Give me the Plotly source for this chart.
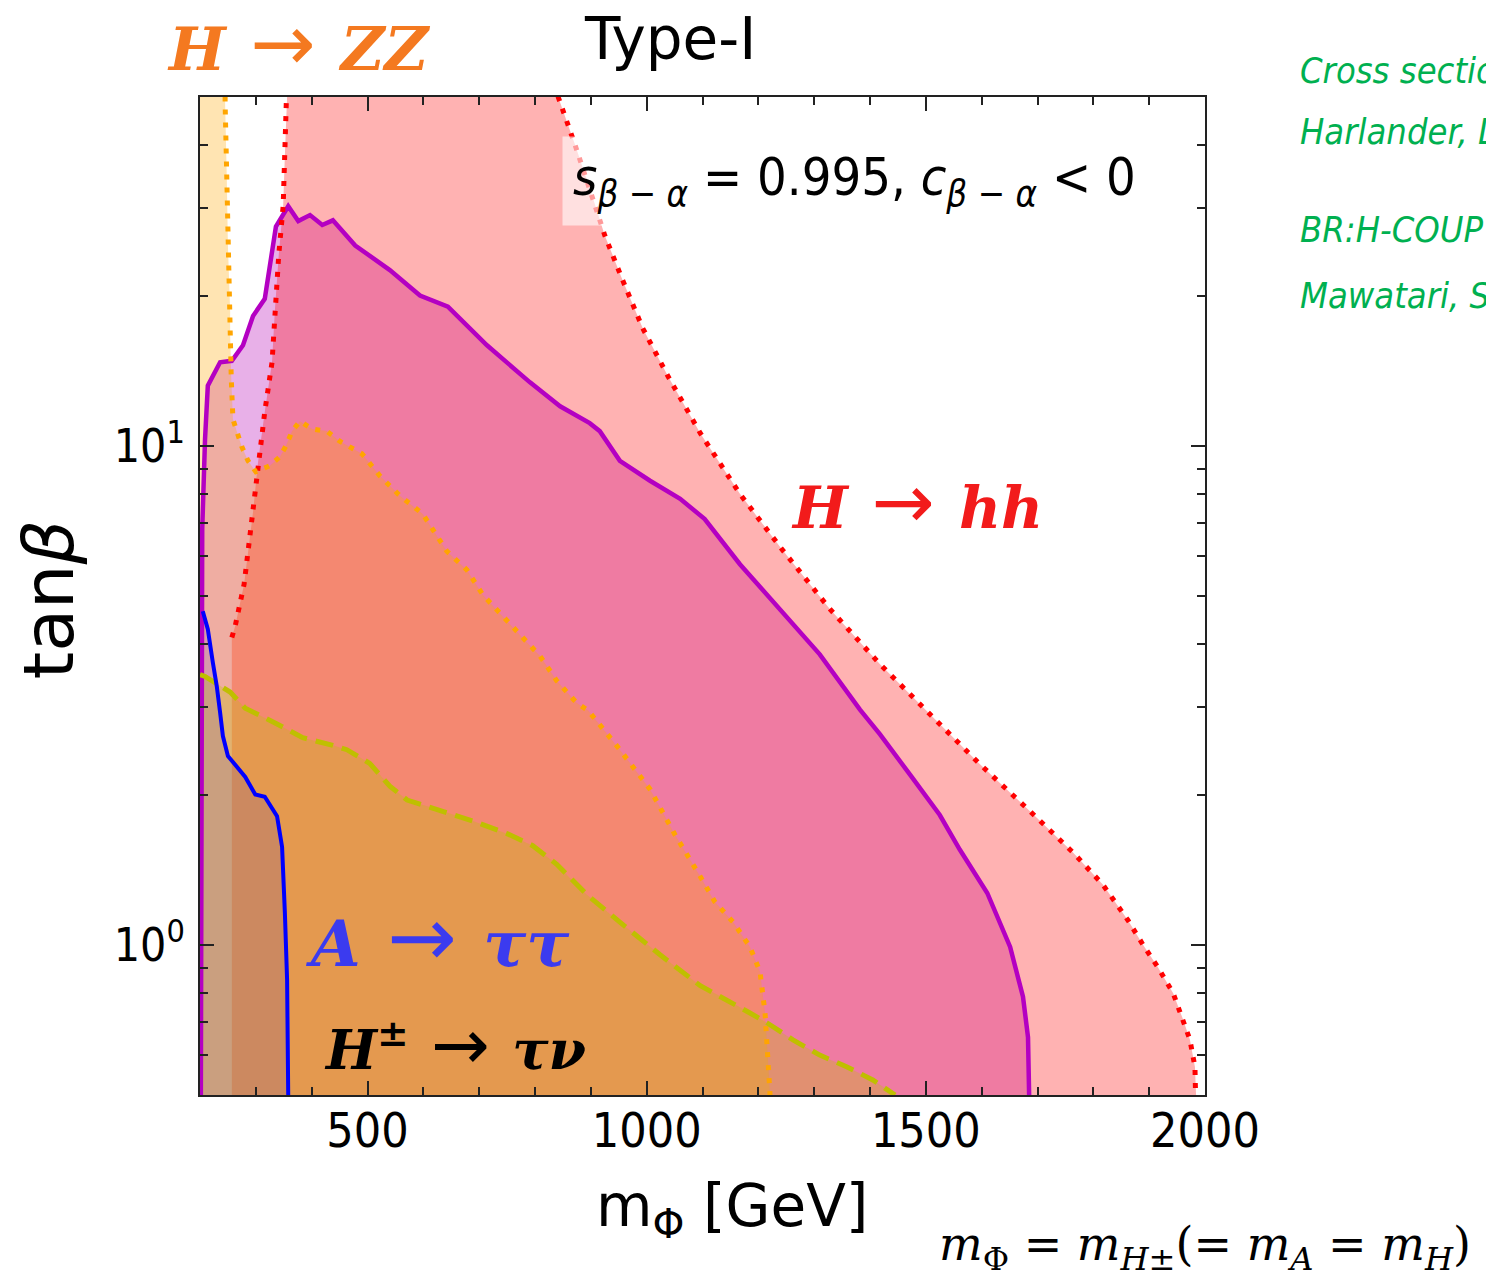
import plotly.graph_objects as go

# ---------------- data ----------------
# purple solid boundary (excluded below the curve)
purple_x = [201.5, 203, 204, 209, 214, 236, 257, 277, 295, 316, 325, 336, 358, 376, 397, 419, 438, 478, 540, 594,
            644, 714, 791, 845, 898, 916, 952, 1006, 1060, 1104, 1167, 1239, 1310, 1382, 1418, 1472, 1525, 1561,
            1610, 1651, 1674, 1683, 1685]
purple_y = [0.5, 4.0, 6.81, 10.3, 13.2, 14.7, 14.8, 15.9, 18.2, 19.7, 23.0, 27.5, 30.2, 28.2, 29.0, 27.7, 28.3, 25.2,
            22.5, 20.0, 19.0, 15.9, 13.4, 12.0, 11.1, 10.7, 9.33, 8.51, 7.83, 7.13, 5.79, 4.71, 3.82, 2.96, 2.64,
            2.19, 1.82, 1.55, 1.27, 0.99, 0.787, 0.653, 0.5]

# H -> hh (red dotted), left and right boundaries
hh_left_x = [257, 257, 263, 279, 295, 304, 316, 329, 334, 341, 349, 352, 356, 357]
hh_left_y = [0.4, 4.13, 4.35, 5.28, 7.37, 9.29, 11.7, 14.7, 18.6, 24.1, 30.3, 38.2, 50.1, 60]
hh_right_x = [838, 841, 872, 902, 925, 956, 993, 1038, 1096, 1167, 1239, 1328, 1418, 1507, 1597, 1687, 1764, 1817,
              1862, 1889, 1916, 1943, 1961, 1973, 1982, 1984, 1985]
hh_right_y = [60, 50.2, 40.0, 31.8, 26.4, 21.6, 17.2, 13.8, 10.6, 8.01, 6.27, 4.71, 3.65, 2.90, 2.30, 1.85, 1.53,
              1.32, 1.12, 1.00, 0.90, 0.80, 0.707, 0.645, 0.569, 0.5, 0.4]

# H -> ZZ (orange dotted)
zz_x = [245, 245, 248, 250, 254, 254, 256, 259, 268, 275, 286, 300, 325, 343, 354, 365, 379, 401, 427, 451, 490,
        522, 558, 599, 642, 678, 707, 743, 778, 809, 839, 875, 895, 952, 1006, 1051, 1096, 1122, 1155, 1185, 1203,
        1212, 1217, 1221, 1221]
zz_y = [60, 48.5, 34.4, 25.2, 18.6, 16.8, 13.6, 11.3, 10.5, 9.95, 9.33, 8.87, 9.12, 9.50, 10.0, 10.7, 11.2, 10.8,
        10.7, 10.2, 9.64, 8.71, 7.94, 7.30, 6.15, 5.64, 5.02, 4.54, 4.12, 3.79, 3.38, 3.05, 2.95, 2.46, 2.05, 1.66,
        1.37, 1.22, 1.11, 0.99, 0.883, 0.730, 0.593, 0.5, 0.4]

# yellow-green dashed
g_x = [200, 209, 254, 281, 338, 384, 438, 463, 504, 540, 571, 630, 689, 750, 796, 839, 868, 893, 952, 1024, 1096,
       1144, 1185, 1216, 1262, 1310, 1359, 1405, 1441, 1445]
g_y = [3.48, 3.45, 3.21, 2.98, 2.77, 2.60, 2.51, 2.46, 2.31, 2.08, 1.95, 1.86, 1.77, 1.67, 1.58, 1.45, 1.34, 1.26,
       1.11, 0.955, 0.828, 0.776, 0.730, 0.697, 0.645, 0.601, 0.569, 0.536, 0.504, 0.5]

# blue solid
b_x = [205, 214, 223, 230, 236, 241, 250, 266, 281, 299, 316, 338, 347, 352, 356, 358]
b_y = [4.66, 4.29, 3.68, 3.30, 2.92, 2.62, 2.39, 2.28, 2.17, 2.00, 1.98, 1.81, 1.57, 1.16, 0.851, 0.5]

x_major = [500, 1000, 1500, 2000]
x_minor = [300, 400, 600, 700, 800, 900, 1100, 1200, 1300, 1400, 1600, 1700, 1800, 1900]
y_major = [1, 10]
y_major_text = ["10<sup>0</sup>", "10<sup>1</sup>"]
y_minor = [0.6, 0.7, 0.8, 0.9, 2, 3, 4, 5, 6, 7, 8, 9, 20, 30, 40]

YLO, YHI, XLO = 0.4, 60, 190

SANS = "DejaVu Sans, sans-serif"
SANSC = "DejaVu Sans Condensed, DejaVu Sans, sans-serif"
SERIF = "DejaVu Serif, serif"
ARROW = '<span style="font-family:DejaVu Sans;font-weight:normal;font-size:1.3em">\u00a0→\u00a0</span>'

fig = go.Figure()

# ---------------- fills ----------------
fig.add_trace(go.Scatter(x=purple_x, y=purple_y, fill="toself", fillcolor="rgba(182,0,182,0.31)",
                         mode="none", hoverinfo="skip", showlegend=False))
fig.add_trace(go.Scatter(x=hh_left_x + hh_right_x, y=hh_left_y + hh_right_y, fill="toself",
                         fillcolor="rgba(255,0,0,0.3)", mode="none", hoverinfo="skip", showlegend=False))
fig.add_trace(go.Scatter(x=[XLO] + zz_x + [XLO], y=[YHI] + zz_y + [YLO], fill="toself",
                         fillcolor="rgba(255,165,0,0.3)", mode="none", hoverinfo="skip", showlegend=False))
fig.add_trace(go.Scatter(x=[XLO, XLO] + g_x + [g_x[-1]], y=[YLO, g_y[0]] + g_y + [YLO], fill="toself",
                         fillcolor="rgba(191,191,0,0.3)", mode="none", hoverinfo="skip", showlegend=False))
fig.add_trace(go.Scatter(x=[XLO, XLO] + b_x + [b_x[-1]], y=[YLO, b_y[0]] + b_y + [YLO], fill="toself",
                         fillcolor="rgba(0,0,255,0.1)", mode="none", hoverinfo="skip", showlegend=False))

# ---------------- lines ----------------
fig.add_trace(go.Scatter(x=purple_x, y=purple_y, mode="lines", line=dict(color="#b400c2", width=4.5),
                         hoverinfo="skip", showlegend=False))
fig.add_trace(go.Scatter(x=hh_left_x[1:], y=hh_left_y[1:], mode="lines",
                         line=dict(color="#ff0000", width=5, dash="5px,8px"), hoverinfo="skip", showlegend=False))
fig.add_trace(go.Scatter(x=hh_right_x, y=hh_right_y, mode="lines",
                         line=dict(color="#ff0000", width=5, dash="5px,8px"), hoverinfo="skip", showlegend=False))
fig.add_trace(go.Scatter(x=zz_x, y=zz_y, mode="lines",
                         line=dict(color="#ffa500", width=5, dash="5px,8px"), hoverinfo="skip", showlegend=False))
fig.add_trace(go.Scatter(x=g_x, y=g_y, mode="lines",
                         line=dict(color="#bfbf00", width=5, dash="18px,9px"), hoverinfo="skip", showlegend=False))
fig.add_trace(go.Scatter(x=b_x, y=b_y, mode="lines", line=dict(color="#0000ff", width=4),
                         hoverinfo="skip", showlegend=False))

# ---------------- axes ----------------
fig.update_xaxes(range=[200, 2000], tickvals=x_major, ticks="inside", ticklen=14, tickwidth=2, tickcolor="#222",
                 mirror="allticks", showline=True, linecolor="#222", linewidth=2, showgrid=False, zeroline=False,
                 tickfont=dict(family=SANSC, size=48, color="black"), ticklabelstandoff=-8,
                 minor=dict(tickvals=x_minor, ticks="inside", ticklen=8, tickwidth=1.5, tickcolor="#222",
                            showgrid=False))
fig.update_yaxes(type="log", range=[-0.30103, 1.69897], tickvals=y_major, ticktext=y_major_text, ticks="inside",
                 ticklen=14, tickwidth=2, tickcolor="#222", mirror="allticks", showline=True, linecolor="#222",
                 linewidth=2, showgrid=False, zeroline=False,
                 tickfont=dict(family=SANSC, size=46, color="black"), ticklabelstandoff=4,
                 minor=dict(tickvals=y_minor, ticks="inside", ticklen=8, tickwidth=1.5, tickcolor="#222",
                            showgrid=False))

# ---------------- text ----------------
def ann(text, x, y, size, color="black", family=SANS, xanchor="center", yanchor="middle", **kw):
    fig.add_annotation(text=text, x=x, y=y, xref="paper", yref="paper", showarrow=False, xanchor=xanchor,
                       yanchor=yanchor, font=dict(size=size, color=color, family=family), **kw)

ann("Type-I", 0.468, 1.058, 58)
ann("<b><i>H</i>" + ARROW + "<i>ZZ</i></b>", 0.0985, 1.054, 60, color="#f47920", family=SERIF)
ann("<b><i>H</i>" + ARROW + "<i>hh</i></b>", 0.586, 0.594, 58, color="#f21b1b", family=SERIF, xanchor="left")
ann("<b><i>A</i>" + ARROW + "<i>ττ</i></b>", 0.103, 0.158, 64, color="#3b3bef", family=SERIF, xanchor="left")
ann("<b><i>H</i><sup>±</sup>" + ARROW + "<i>τν</i></b>", 0.121, 0.050, 54, color="black", family=SERIF,
    xanchor="left")
ann("<i>s</i><sub><i>β</i> − <i>α</i></sub> = 0.995, <i>c</i><sub><i>β</i> − <i>α</i></sub> &lt; 0",
    0.360, 0.916, 52, family=SANSC, xanchor="left", bgcolor="rgba(255,255,255,0.6)", borderpad=10)
ann("m<sub>Φ</sub> [GeV]", 0.529, -0.115, 58)
ann("tan<i>β</i>", -0.15, 0.496, 70, textangle=-90)
ann("<i>m</i><sub>Φ</sub> = <i>m</i><sub><i>H</i>±</sub>(= <i>m</i><sub><i>A</i></sub> = <i>m</i><sub><i>H</i></sub>)",
    0.733, -0.153, 46, family=SERIF, xanchor="left")

GREEN = "#00b050"
ann("<i>Cross section</i>", 1.0925, 1.027, 36, color=GREEN, family=SANSC, xanchor="left")
ann("<i>Harlander, L</i>", 1.0925, 0.965, 36, color=GREEN, family=SANSC, xanchor="left")
ann("<i>BR:H-COUP</i>", 1.0925, 0.867, 36, color=GREEN, family=SANSC, xanchor="left")
ann("<i>Mawatari, S</i>", 1.0925, 0.801, 36, color=GREEN, family=SANSC, xanchor="left")

fig.update_layout(width=1486, height=1269, autosize=False, paper_bgcolor="white", plot_bgcolor="white",
                  margin=dict(l=192, r=289, t=89, b=182), showlegend=False)

fig.write_html("out.html")
